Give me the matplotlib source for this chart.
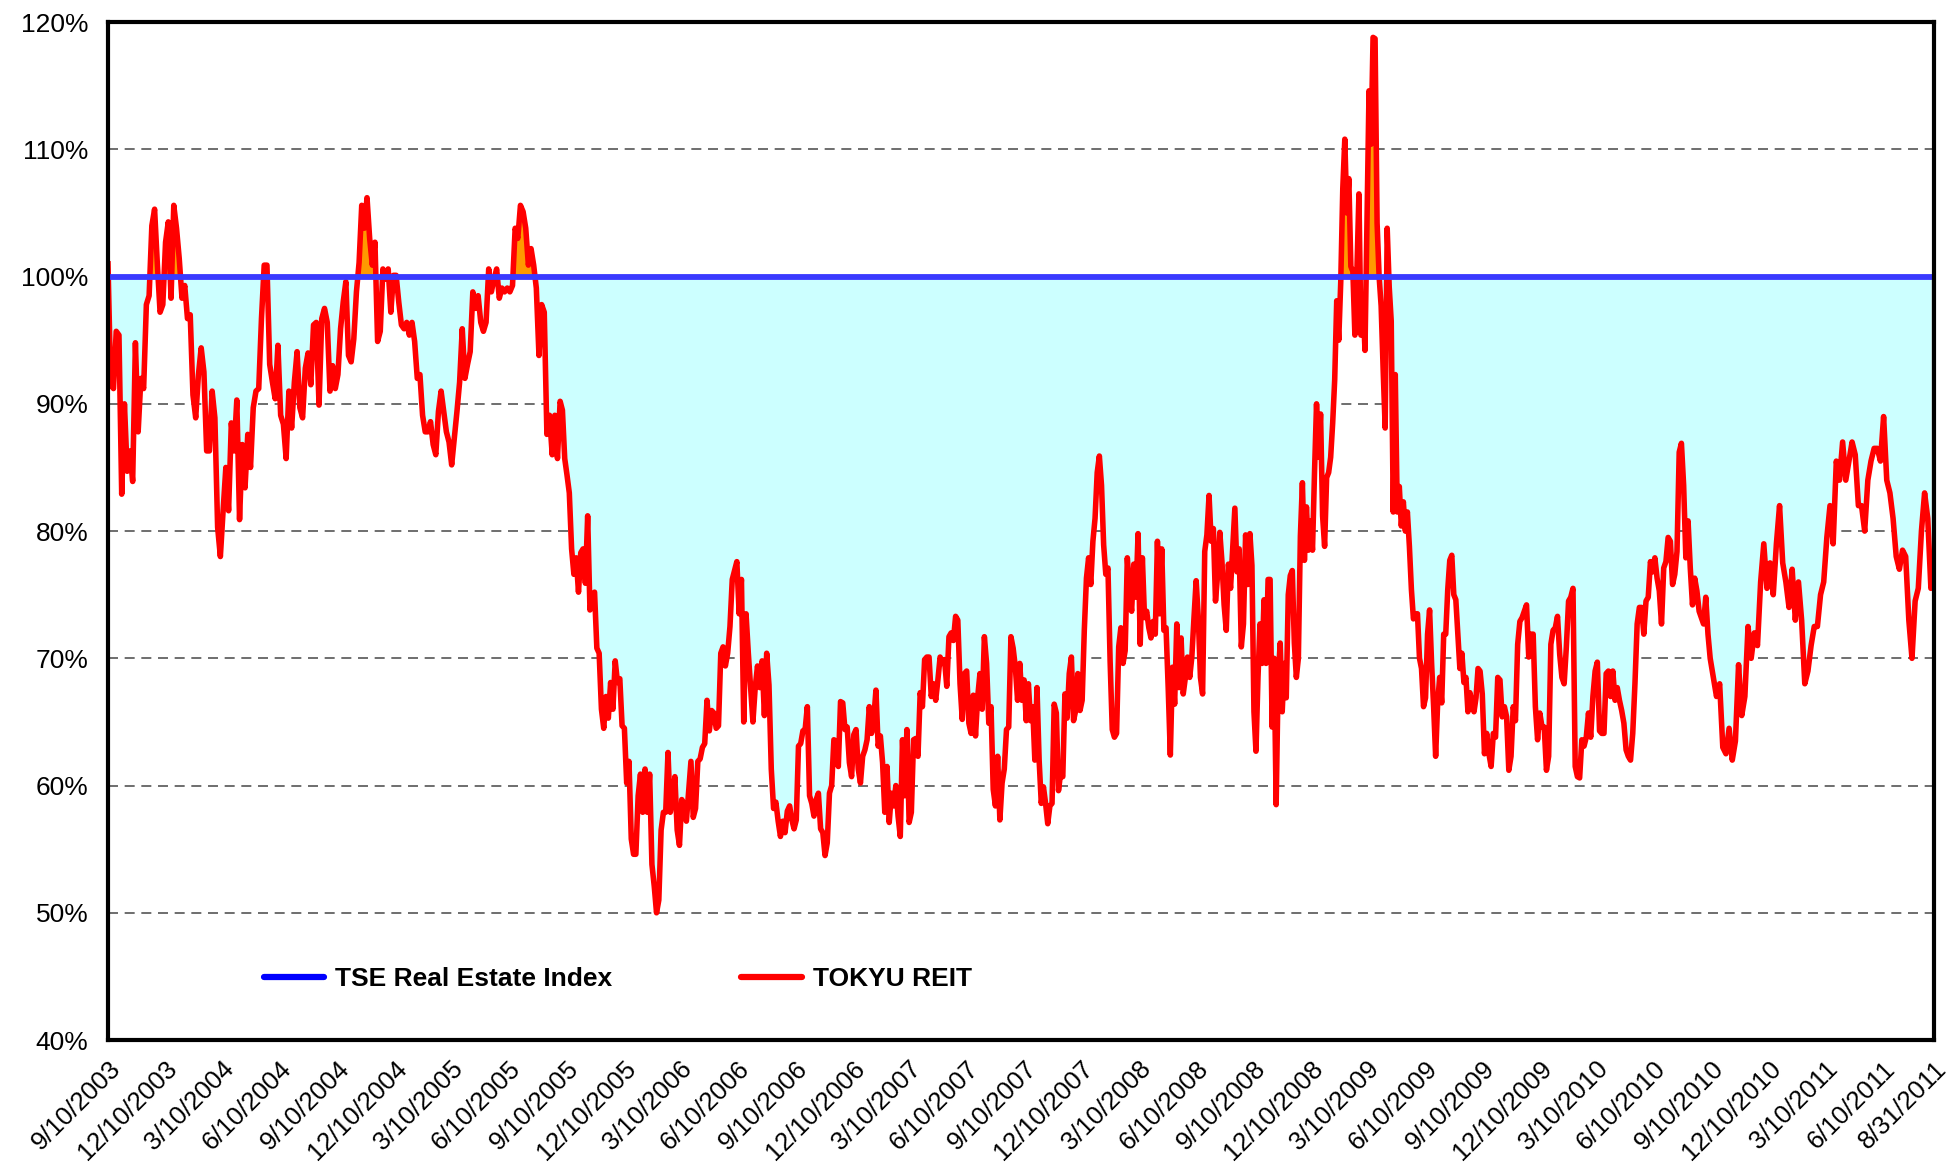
import numpy as np
import pandas as pd
import matplotlib
matplotlib.use('Agg')
import matplotlib.pyplot as plt
from matplotlib.lines import Line2D
from matplotlib.ticker import FuncFormatter

plt.rcParams['font.family'] = ['Liberation Sans', 'DejaVu Sans']

# TOKYU REIT relative to TSE Real Estate Index (%) in ~1 year blocks
seg_edges = ['2003-09-10', '2004-08-29', '2005-08-31', '2006-09-01', '2007-09-03',
             '2008-09-04', '2009-09-06', '2010-09-08', '2011-08-31']

reit_2003 = [101, 91.5, 91.2, 95.7, 95.4, 82.9, 90, 84.7, 86.3, 83.9, 94.8, 87.8, 92, 91.2, 97.8,
             98.5, 104, 105.3, 101, 97.2, 97.8, 102.7, 104.3, 98.3, 105.6, 103.8, 101.4, 98.3,
             99.3, 96.7, 97, 90.7, 88.9, 92.3, 94.4, 92.5, 86.3, 86.3, 91, 88.9, 80.3, 78, 81.6,
             85, 81.6, 88.5, 86.3, 90.3, 80.9, 86.8, 83.4, 87.6, 85, 89.7, 91, 91.2, 96.7, 100.9,
             100.9, 93.1, 91.7, 90.4, 94.6, 89.1, 88.4, 85.7, 91, 88.1, 91.7, 94.1, 89.7, 88.9,
             92.8, 94, 91.5, 96.2, 96.4, 89.9, 96.7, 97.5, 96.4]
reit_2004 = [91, 93, 91.2, 92.3, 95.9, 98, 99.6, 93.8, 93.3, 95.1, 98.8, 101.1, 105.6, 103.8,
             106.2, 103, 100.9, 102.7, 94.9, 95.7, 100.6, 99.8, 100.6, 97.2, 100.1, 100.1, 98,
             96.2, 95.9, 96.4, 95.4, 96.4, 94.9, 92, 92.3, 89.1, 87.8, 87.8, 88.6, 86.8, 86,
             89.4, 91, 89.4, 87.8, 87, 85.2, 87.3, 89.4, 91.7, 95.9, 92, 93.1, 94.1, 98.8, 97.5,
             98.5, 96.4, 95.7, 96.4, 100.6, 98.8, 99.8, 100.6, 98.3, 99.1, 98.8, 99.1, 98.8,
             99.3, 103.8, 103, 105.6, 105.1, 103.8, 100.9, 102.2, 100.9, 99.1, 93.8, 97.8, 97.2,
             87.6, 89.1, 86, 89.1, 85.7]
reit_2005 = [90.2, 89.5, 85.7, 84.4, 83, 78.6, 76.6, 77.9, 75.2, 78.3, 78.6, 75.9, 81.2, 73.8,
             74.9, 75.2, 70.8, 70.4, 66, 64.5, 67, 65.3, 68.1, 66, 69.8, 68.1, 68.4, 64.7, 64.5,
             60.2, 61.9, 55.8, 54.6, 54.6, 59.2, 60.9, 57.9, 61.3, 57.9, 60.9, 53.8, 52.1, 50,
             51, 56.5, 57.9, 57.9, 62.6, 57.9, 58.9, 60.7, 56.5, 55.3, 58.9, 58.5, 57.2, 59.6,
             61.9, 57.5, 58.2, 61.9, 62.1, 63, 63.3, 66.7, 64.3, 65.9, 65.7, 64.5, 64.7, 70.4,
             70.9, 69.4, 70.4, 72.5, 76.2, 76.9, 77.6, 73.5, 76.2, 65, 73.5, 70.4, 67.7, 65,
             67.7, 69.4, 67.7, 69.8, 65.5, 70.4, 67.9, 61.3, 58.2, 58.7, 57.2, 56, 57.2, 56.3, 58]
reit_2006 = [58.4, 57.3, 56.6, 57.3, 63.1, 63.3, 64.3, 64.4, 66.2, 59.2, 58.6, 57.6, 58.9, 59.4,
             56.6, 56.3, 54.5, 55.5, 59.4, 60, 63.6, 63.5, 61.5, 66.6, 66.5, 64.4, 64.6, 61.8,
             60.7, 64, 64.4, 61.3, 60.2, 62.3, 62.8, 63.6, 66.2, 64.1, 65.2, 67.5, 63.1, 63.9,
             61.8, 57.9, 61.5, 57.1, 59.4, 58.4, 60, 57.6, 56, 63.6, 59.2, 64.4, 57.1, 57.9,
             63.6, 63.7, 62.3, 67.3, 66.2, 69.9, 70.1, 70.1, 67, 68, 66.7, 68.3, 70.1, 69.6,
             69.9, 67.8, 71.7, 72, 71.4, 73.3, 73, 68, 65.2, 68.8, 69, 64.9, 64.1, 67.1, 63.9,
             67, 68.8, 66, 71.7, 69.6, 64.9, 66.2, 59.7, 58.4, 62.3, 57.3, 60.2, 61.3, 64.4,
             64.6, 71.7, 70.8, 69.3, 66.7]
reit_2007 = [69.6, 66.7, 68.3, 65.1, 68, 65.1, 66.2, 62, 67.7, 62, 58.6, 59.9, 58.6, 57, 58.4,
             58.6, 66.4, 65.7, 59.6, 61, 60.7, 67.2, 65.3, 68.8, 70.1, 65.1, 65.9, 68.8, 65.9,
             66.7, 72.2, 76.3, 77.9, 75.8, 79.2, 81, 84.6, 85.9, 83.6, 78.9, 76.6, 77.1, 69.8,
             64.4, 63.8, 64.1, 70.9, 72.4, 69.6, 70.6, 77.9, 75.3, 73.7, 77.4, 74.8, 79.8, 71.1,
             77.9, 73.2, 73.7, 72.4, 71.6, 72.9, 71.9, 79.2, 73.5, 78.6, 72.2, 72.4, 67.7, 62.4,
             69.3, 66.4, 72.7, 67.7, 71.6, 67.2, 68.5, 70.1, 68.5, 70.1, 73.2, 76.1, 73.2, 68.5,
             67.2, 78.4, 79.7, 82.8, 79.2, 80.2, 74.5, 76.6, 79.9, 77.6, 74.2, 72.2, 77.4, 75.5,
             78.6, 81.8, 76.8, 78.6, 70.9, 72.7, 79.7, 75.8]
reit_2008 = [79.8, 77.3, 65.8, 62.7, 68.5, 72.7, 69.6, 74.6, 69.6, 76.2, 76.2, 64.6, 70, 58.5,
             68.5, 71.2, 65.8, 69.6, 66.9, 75, 76.5, 76.9, 71.2, 68.5, 70, 79.6, 83.8, 77.7,
             81.9, 78.5, 80.8, 78.5, 84.6, 90, 85.8, 89.2, 81.2, 78.8, 84.2, 84.6, 85.8, 88.5,
             91.9, 98.1, 95, 99.6, 106.9, 110.8, 105, 107.7, 100.8, 100.4, 95.4, 100.4, 106.5,
             95.4, 98.1, 94.2, 104.2, 114.6, 110.4, 118.8, 118.7, 104.2, 100, 97.7, 92.7, 88.1,
             103.8, 99.2, 96.5, 81.5, 92.3, 81.5, 83.5, 80.4, 82.3, 80, 81.5, 78.8, 75.4, 73.1,
             73.5, 73.5, 70, 69.2, 66.2, 66.9, 71.9, 73.8, 69.6, 66.2, 62.3, 66.5, 68.5, 66.5,
             71.9, 71.9, 75.4, 77.7, 78.1, 75, 74.6, 71.9, 69.2, 70.4, 68.1, 68.5, 65.8, 67.3,
             66.5, 65.8, 66.9, 69.2]
reit_2009 = [69, 67.2, 62.5, 64.1, 62.5, 61.5, 64.1, 63.8, 68.5, 68.3, 65.4, 66.2, 65.4, 61.2,
             62.3, 66.2, 65.1, 71.1, 72.9, 73.2, 73.7, 74.2, 70.1, 71.9, 71.9, 66.2, 63.6, 65.7,
             64.6, 64.6, 61.2, 62.3, 71.1, 72.2, 72.4, 73.3, 70.3, 68.5, 68, 70.9, 74.5, 74.8,
             75.5, 61.5, 60.7, 60.6, 63.6, 63.1, 63.8, 65.7, 63.8, 67, 69, 69.7, 64.3, 64.1,
             64.1, 68.8, 69, 67, 69, 66.7, 67.7, 66.7, 65.9, 64.9, 62.8, 62.3, 62, 64.1, 68,
             72.7, 74, 74, 71.9, 74.5, 74.8, 77.6, 76.8, 77.9, 76.3, 75.3, 72.7, 77.1, 77.6,
             79.5, 79.2, 75.8, 76.6, 78.4, 86.2, 86.9, 83.6, 77.9, 80.8, 77.1, 74.2, 76.3, 75.3,
             73.7, 73.2, 72.7, 74.8, 71.9]
reit_2010 = [70, 68.5, 67, 68, 63, 62.5, 64.5, 62, 63.5, 69.5, 65.5, 67, 72.5, 70, 72, 71, 76,
             79, 75.5, 77.5, 75, 79, 82, 77.5, 76, 74, 77, 73, 76, 73, 68, 69, 71, 72.5, 72.5,
             75, 76, 79.5, 82, 79, 85.5, 84, 87, 84, 85.5, 87, 86, 82, 82, 80, 84, 85.5, 86.5,
             86.5, 85.5, 89, 84, 83, 81, 78, 77, 78.5, 78, 73, 70, 74.5, 75.5, 80, 83, 81,
             75.5, 76]

tse_level = 100
y_ticks = [40, 50, 60, 70, 80, 90, 100, 110, 120]
grid_levels = [50, 60, 70, 80, 90, 110]

x_tick_labels = ['9/10/2003', '12/10/2003', '3/10/2004', '6/10/2004', '9/10/2004',
                 '12/10/2004', '3/10/2005', '6/10/2005', '9/10/2005', '12/10/2005',
                 '3/10/2006', '6/10/2006', '9/10/2006', '12/10/2006', '3/10/2007',
                 '6/10/2007', '9/10/2007', '12/10/2007', '3/10/2008', '6/10/2008',
                 '9/10/2008', '12/10/2008', '3/10/2009', '6/10/2009', '9/10/2009',
                 '12/10/2009', '3/10/2010', '6/10/2010', '9/10/2010', '12/10/2010',
                 '3/10/2011', '6/10/2011', '8/31/2011']

segments = [reit_2003, reit_2004, reit_2005, reit_2006, reit_2007, reit_2008, reit_2009, reit_2010]

# spread each block's readings over its span of dates
dates = []
for i, seg in enumerate(segments):
    t0 = pd.Timestamp(seg_edges[i]).value
    t1 = pd.Timestamp(seg_edges[i + 1]).value
    last = (i == len(segments) - 1)
    dates.extend(pd.to_datetime(np.linspace(t0, t1, len(seg), endpoint=last)))
dates = pd.DatetimeIndex(dates)
reit = np.concatenate(segments)

fig = plt.figure(figsize=(19.53, 11.76), dpi=100)
ax = fig.add_axes([0.0553, 0.1156, 0.935, 0.8656])

# dashed gridlines under the shaded areas
for lv in grid_levels:
    ax.axhline(lv, color='#555555', linestyle=(0, (6, 4)), linewidth=1.2, zorder=0.5)

ax.fill_between(dates, reit, tse_level, where=reit < tse_level, interpolate=True,
                color='#ccffff', linewidth=0, zorder=2)
ax.fill_between(dates, reit, tse_level, where=reit > tse_level, interpolate=True,
                color='#ff9900', linewidth=0, zorder=2)
ax.plot(dates, reit, color='#ff0000', lw=4.0, zorder=3, solid_joinstyle='round')
ax.vlines(dates[-1], reit[-1], tse_level, color='#ff0000', lw=3, zorder=3)
ax.plot([dates[0], dates[-1]], [tse_level, tse_level], color='#3a3aff', lw=4.2, zorder=4)

ax.set_xlim(dates[0], dates[-1])
ax.set_ylim(40, 120)
ax.set_yticks(y_ticks)
ax.yaxis.set_major_formatter(FuncFormatter(lambda v, p: f'{int(v)}%'))

tick_pos = pd.to_datetime(x_tick_labels, format='%m/%d/%Y')
ax.set_xticks(tick_pos)
ax.set_xticklabels(x_tick_labels, rotation=45, ha='right', rotation_mode='anchor')
ax.tick_params(axis='x', length=0, pad=12, labelsize=18.5)
ax.tick_params(axis='y', length=0, pad=14, labelsize=19)

for s in ax.spines.values():
    s.set_linewidth(3)
    s.set_color('black')
    s.set_zorder(5)

handles = [Line2D([], [], color='#0000ff', lw=4.5, solid_capstyle='round'),
           Line2D([], [], color='#ff0000', lw=4.5, solid_capstyle='round')]
ax.legend(handles, ['TSE Real Estate Index', 'TOKYU REIT'], ncol=2, frameon=False,
          loc='center left', bbox_to_anchor=(0.078, 0.06), borderpad=0,
          handlelength=2.3, handletextpad=0.4, columnspacing=4.9,
          prop={'weight': 'bold', 'size': 19})

fig.savefig('out.png', dpi=100)
